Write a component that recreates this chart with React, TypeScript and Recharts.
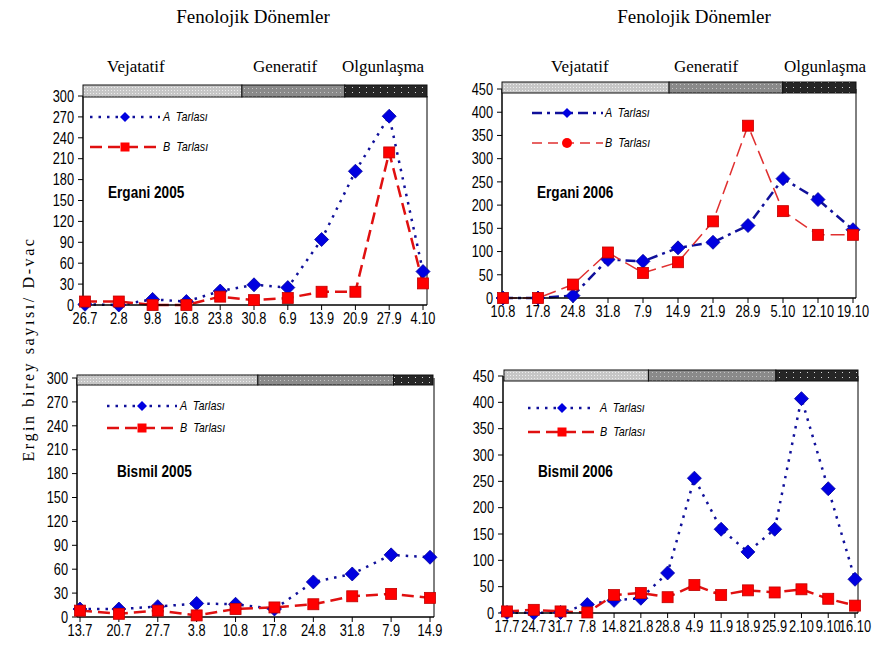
import React from 'react';
import { LineChart, Line, XAxis, YAxis } from 'recharts';

// ---------- data ----------
const ergani2005Dates = ['26.7', '2.8', '9.8', '16.8', '23.8', '30.8', '6.9', '13.9', '20.9', '27.9', '4.10'];
const ergani2005A = [1, 0, 8, 5, 20, 29, 25, 94, 192, 271, 48];
const ergani2005B = [5, 5, 0, 0, 12, 7, 10, 19, 19, 219, 31];

const ergani2006Dates = ['10.8', '17.8', '24.8', '31.8', '7.9', '14.9', '21.9', '28.9', '5.10', '12.10', '19.10'];
const ergani2006A = [0, 0, 5, 83, 79, 108, 120, 156, 257, 212, 147];
const ergani2006B = [0, 0, 29, 98, 54, 77, 165, 371, 187, 136, 136];

const bismil2005Dates = ['13.7', '20.7', '27.7', '3.8', '10.8', '17.8', '24.8', '31.8', '7.9', '14.9'];
const bismil2005A = [10, 10, 13, 17, 16, 10, 44, 54, 78, 75];
const bismil2005B = [8, 4, 8, 2, 10, 12, 16, 26, 29, 24];

const bismil2006Dates = ['17.7', '24.7', '31.7', '7.8', '14.8', '21.8', '28.8', '4.9', '11.9', '18.9', '25.9', '2.10', '9.10', '16.10'];
const bismil2006A = [1, 0, 1, 16, 24, 28, 76, 256, 159, 116, 159, 407, 236, 64];
const bismil2006B = [3, 6, 3, 1, 34, 38, 30, 53, 34, 43, 39, 45, 27, 14];

const ticks300 = [0, 30, 60, 90, 120, 150, 180, 210, 240, 270, 300];
const ticks450 = [0, 50, 100, 150, 200, 250, 300, 350, 400, 450];

const seriesNames = ['A  Tarlası', 'B  Tarlası'];
const phaseNames = ['Vejatatif', 'Generatif', 'Olgunlaşma'];
const headerTitle = 'Fenolojik Dönemler';
const yTitle = 'Ergin birey sayısı/ D-vac';

// relative length of each phenological period on the bar
const ergani2005Phases = [0.462, 0.299, 0.239];
const ergani2006Phases = [0.472, 0.321, 0.207];
const bismil2005Phases = [0.508, 0.381, 0.111];
const bismil2006Phases = [0.408, 0.36, 0.232];

// ---------- styles ----------
const SANS = "'Liberation Sans', Arial, sans-serif";
const SERIF = "'Liberation Serif', 'Times New Roman', serif";
const BLUE_LINE = '#10109a';
const BLUE_FILL = '#0000e0';
const RED_LINE = '#e01010';
const RED_FILL = '#ff0000';
const NARROW_SCALE = 0.8;
const RIGHT_MARGIN = 20;

type Box = { l: number; r: number; t: number; b: number; pl: number; pr: number };

const XTick = (props: any) => {
  const { x, y, payload } = props;
  return (
    <text
      x={0}
      y={0}
      dy="0.71em"
      transform={`translate(${x} ${y}) scale(${NARROW_SCALE} 1)`}
      textAnchor="middle"
      fontFamily={SANS}
      fontSize={16}
      fill="#000"
    >
      {payload.value}
    </text>
  );
};

const YTick = (props: any) => {
  const { x, y, payload } = props;
  return (
    <text
      x={0}
      y={0}
      dy="0.36em"
      transform={`translate(${x} ${y}) scale(${NARROW_SCALE} 1)`}
      textAnchor="end"
      fontFamily={SANS}
      fontSize={16}
      fill="#000"
    >
      {payload.value}
    </text>
  );
};

const diamondDot = (size: number) => (props: any) => {
  const { cx, cy, index } = props;
  if (cx == null || cy == null) return <g key={`d${index}`} />;
  return (
    <polygon
      key={`d${index}`}
      points={`${cx},${cy - size} ${cx + size},${cy} ${cx},${cy + size} ${cx - size},${cy}`}
      fill={BLUE_FILL}
      stroke="#0000a0"
      strokeWidth={0.8}
    />
  );
};

const squareDot = (size: number) => (props: any) => {
  const { cx, cy, index } = props;
  if (cx == null || cy == null) return <g key={`s${index}`} />;
  return (
    <rect
      key={`s${index}`}
      x={cx - size / 2}
      y={cy - size / 2}
      width={size}
      height={size}
      fill={RED_FILL}
      stroke="#c00000"
      strokeWidth={0.8}
    />
  );
};

type PanelProps = {
  box: Box;
  cats: string[];
  a: number[];
  b: number[];
  ticks: number[];
  aDash: string;
  bDash: string;
  bWidth: number;
  bColor: string;
};

function Panel({ box, cats, a, b, ticks, aDash, bDash, bWidth, bColor }: PanelProps) {
  const data = cats.map((c, i) => ({ date: c, a: a[i], b: b[i] }));
  const W = box.r - box.l + 60 + 1 + RIGHT_MARGIN;
  const H = box.b - box.t + 10 + 35;
  const max = ticks[ticks.length - 1];
  return (
    <div style={{ position: 'absolute', left: box.l - 60, top: box.t - 10 }}>
      <LineChart width={W} height={H} data={data} margin={{ top: 10, right: RIGHT_MARGIN, left: 0, bottom: 0 }}>
        <XAxis
          dataKey="date"
          scale="point"
          interval={0}
          height={35}
          tickSize={5}
          tickMargin={3}
          padding={{ left: box.pl, right: box.pr }}
          tick={<XTick />}
          axisLine={{ stroke: '#000', strokeWidth: 1.5 }}
          tickLine={{ stroke: '#000' }}
        />
        <YAxis
          yAxisId="l"
          domain={[0, max]}
          ticks={ticks}
          interval={0}
          width={60}
          tickSize={5}
          tickMargin={4}
          tick={<YTick />}
          axisLine={{ stroke: '#000', strokeWidth: 1.5 }}
          tickLine={{ stroke: '#000' }}
        />
        <YAxis
          yAxisId="r"
          orientation="right"
          domain={[0, max]}
          width={1}
          tick={false}
          tickLine={false}
          axisLine={{ stroke: '#000', strokeWidth: 1 }}
        />
        <Line
          yAxisId="l"
          type="linear"
          dataKey="a"
          stroke={BLUE_LINE}
          strokeWidth={2.5}
          strokeDasharray={aDash}
          dot={diamondDot(7)}
          activeDot={false}
          isAnimationActive={false}
        />
        <Line
          yAxisId="l"
          type="linear"
          dataKey="b"
          stroke={bColor}
          strokeWidth={bWidth}
          strokeDasharray={bDash}
          dot={squareDot(11)}
          activeDot={false}
          isAnimationActive={false}
        />
      </LineChart>
    </div>
  );
}

function PhaseBar({ x0, x1, y0, y1, parts }: { x0: number; x1: number; y0: number; y1: number; parts: number[] }) {
  const fills = ['url(#pLight)', 'url(#pMed)', 'url(#pDark)'];
  let acc = x0;
  const w = x1 - x0;
  return (
    <g>
      {parts.map((p, i) => {
        const sx = acc;
        acc += p * w;
        return <rect key={i} x={sx} y={y0} width={p * w} height={y1 - y0} fill={fills[i]} stroke="#111" strokeWidth={1} />;
      })}
    </g>
  );
}

function LegendBlock({ x0, x1, yA, yB, mx, tx, aDash, bDash, bWidth, bColor, circle }: any) {
  const s = 5;
  const textProps = {
    fontFamily: SANS,
    fontStyle: 'italic',
    fontSize: 12,
    fill: '#000',
  } as const;
  return (
    <g>
      <line x1={x0} y1={yA} x2={x1} y2={yA} stroke={BLUE_LINE} strokeWidth={2.5} strokeDasharray={aDash} />
      <polygon points={`${mx},${yA - s} ${mx + s},${yA} ${mx},${yA + s} ${mx - s},${yA}`} fill={BLUE_FILL} />
      <text x={0} y={0} transform={`translate(${tx} ${yA + 4}) scale(0.9 1)`} {...textProps} xmlSpace="preserve">
        {seriesNames[0]}
      </text>
      <line x1={x0} y1={yB} x2={x1} y2={yB} stroke={bColor} strokeWidth={bWidth} strokeDasharray={bDash} />
      {circle ? (
        <circle cx={mx} cy={yB} r={5} fill={RED_FILL} />
      ) : (
        <rect x={mx - 4.5} y={yB - 4.5} width={9} height={9} fill={RED_FILL} />
      )}
      <text x={0} y={0} transform={`translate(${tx} ${yB + 4}) scale(0.9 1)`} {...textProps} xmlSpace="preserve">
        {seriesNames[1]}
      </text>
    </g>
  );
}

function PanelLabel({ x, y, text }: { x: number; y: number; text: string }) {
  return (
    <text
      x={0}
      y={0}
      transform={`translate(${x} ${y}) scale(0.85 1)`}
      fontFamily={SANS}
      fontWeight={700}
      fontSize={16}
      fill="#000"
    >
      {text}
    </text>
  );
}

const DOTTED = '2.5 6';
const DASHED = '12 6';
const DASHDOT = '10 5 3 5';

export default function App() {
  const p1: Box = { l: 83, r: 427, t: 96, b: 305, pl: 2, pr: 4 };
  const p2: Box = { l: 502, r: 856, t: 89, b: 298, pl: 1, pr: 3 };
  const p3: Box = { l: 77, r: 434, t: 378, b: 617, pl: 3, pr: 4 };
  const p4: Box = { l: 503, r: 858, t: 376, b: 613, pl: 4, pr: 3 };

  return (
    <div style={{ position: 'absolute', left: 0, top: 0, width: 872, height: 650, background: '#fff', overflow: 'hidden' }}>
      <Panel box={p1} cats={ergani2005Dates} a={ergani2005A} b={ergani2005B} ticks={ticks300} aDash={DOTTED} bDash={DASHED} bWidth={2.5} bColor={RED_LINE} />
      <Panel box={p2} cats={ergani2006Dates} a={ergani2006A} b={ergani2006B} ticks={ticks450} aDash={DASHDOT} bDash="14 6" bWidth={1.5} bColor="#e03030" />
      <Panel box={p3} cats={bismil2005Dates} a={bismil2005A} b={bismil2005B} ticks={ticks300} aDash={DOTTED} bDash={DASHED} bWidth={2.5} bColor={RED_LINE} />
      <Panel box={p4} cats={bismil2006Dates} a={bismil2006A} b={bismil2006B} ticks={ticks450} aDash={DOTTED} bDash={DASHED} bWidth={2.5} bColor={RED_LINE} />

      <svg width={872} height={650} style={{ position: 'absolute', left: 0, top: 0, pointerEvents: 'none' }}>
        <defs>
          <pattern id="pLight" width="3" height="3" patternUnits="userSpaceOnUse">
            <rect width="3" height="3" fill="#c6c6c6" />
            <rect width="1" height="1" fill="#ededed" />
          </pattern>
          <pattern id="pMed" width="4" height="4" patternUnits="userSpaceOnUse">
            <rect width="4" height="4" fill="#8a8a8a" />
            <rect width="1" height="1" fill="#c4c4c4" />
          </pattern>
          <pattern id="pDark" width="7" height="5" patternUnits="userSpaceOnUse">
            <rect width="7" height="5" fill="#262626" />
            <rect x="2" y="2" width="1" height="1" fill="#d8d8d8" />
          </pattern>
        </defs>

        {/* headers */}
        <text x={253} y={23} textAnchor="middle" fontFamily={SERIF} fontSize={19} fill="#000">{headerTitle}</text>
        <text x={694} y={23} textAnchor="middle" fontFamily={SERIF} fontSize={19} fill="#000">{headerTitle}</text>
        <text x={107} y={72} fontFamily={SERIF} fontSize={17} fill="#000">{phaseNames[0]}</text>
        <text x={253} y={72} fontFamily={SERIF} fontSize={17} fill="#000">{phaseNames[1]}</text>
        <text x={342} y={72} fontFamily={SERIF} fontSize={17} fill="#000">{phaseNames[2]}</text>
        <text x={551} y={72} fontFamily={SERIF} fontSize={17} fill="#000">{phaseNames[0]}</text>
        <text x={674} y={72} fontFamily={SERIF} fontSize={17} fill="#000">{phaseNames[1]}</text>
        <text x={784} y={72} fontFamily={SERIF} fontSize={17} fill="#000">{phaseNames[2]}</text>

        {/* y title */}
        <text
          x={0}
          y={0}
          transform="translate(34 349) rotate(-90)"
          textAnchor="middle"
          fontFamily={SERIF}
          fontSize={16}
          letterSpacing={2.6}
          fill="#000"
        >
          {yTitle}
        </text>

        {/* phase bars */}
        <PhaseBar x0={83} x1={427} y0={85} y1={97} parts={ergani2005Phases} />
        <PhaseBar x0={502} x1={856} y0={82} y1={93} parts={ergani2006Phases} />
        <PhaseBar x0={77} x1={433} y0={375} y1={385} parts={bismil2005Phases} />
        <PhaseBar x0={504} x1={858} y0={370} y1={381} parts={bismil2006Phases} />

        {/* legends */}
        <LegendBlock x0={90} x1={160} yA={117} yB={147} mx={125} tx={163} aDash={DOTTED} bDash={DASHED} bWidth={2.5} bColor={RED_LINE} />
        <LegendBlock x0={532} x1={603} yA={113} yB={143} mx={567} tx={605} aDash={DASHDOT} bDash="10 6" bWidth={1.5} bColor="#e03030" circle />
        <LegendBlock x0={107} x1={177} yA={406} yB={428} mx={142} tx={180} aDash={DOTTED} bDash={DASHED} bWidth={2.5} bColor={RED_LINE} />
        <LegendBlock x0={528} x1={595} yA={408} yB={432} mx={562} tx={600} aDash={DOTTED} bDash={DASHED} bWidth={2.5} bColor={RED_LINE} />

        {/* panel labels */}
        <PanelLabel x={108} y={198} text="Ergani 2005" />
        <PanelLabel x={537} y={198} text="Ergani 2006" />
        <PanelLabel x={117} y={477} text="Bismil 2005" />
        <PanelLabel x={538} y={477} text="Bismil 2006" />
      </svg>
    </div>
  );
}
